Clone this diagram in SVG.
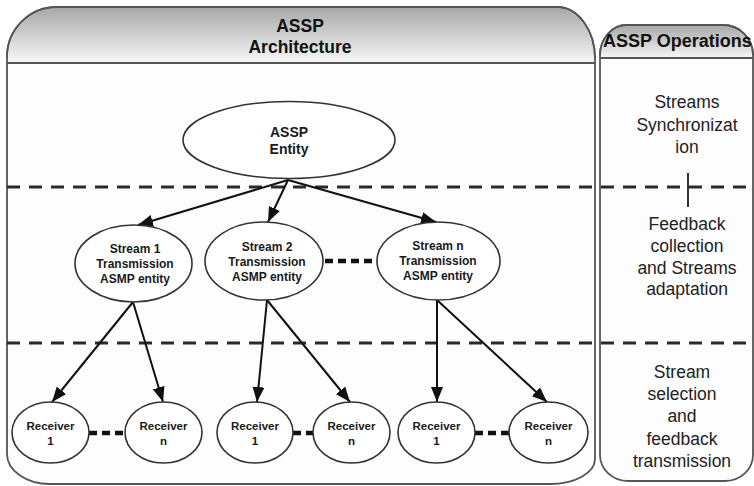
<svg xmlns="http://www.w3.org/2000/svg" width="754" height="486" viewBox="0 0 754 486">
  <defs>
    <linearGradient id="headFill" x1="0" y1="0" x2="0" y2="1">
      <stop offset="0" stop-color="#a9a9a9"/>
      <stop offset="1" stop-color="#f7f7f7"/>
    </linearGradient>
    <marker id="arrow" markerUnits="userSpaceOnUse" markerWidth="16" markerHeight="12" refX="15" refY="6" orient="auto">
      <path d="M0,0 L15,6 L0,12 Z" fill="#111"/>
    </marker>
    <style>
      .panel { fill: #fdfdfd; stroke: #555; stroke-width: 1.8; }
      .head { fill: url(#headFill); stroke: none; }
      .rule { stroke: #555; stroke-width: 1.8; fill: none; }
      .band { stroke: #2a2a2a; stroke-width: 3; stroke-dasharray: 13 9; fill: none; }
      .node ellipse { fill: #ffffff; stroke: #333; stroke-width: 1.6; }
      .node text { font-family: "Liberation Sans", Arial, sans-serif; font-weight: bold; fill: #1a1a1a; text-anchor: middle; }
      .t14 { font-size: 14px; }
      .t12 { font-size: 12px; }
      .t11 { font-size: 11.5px; }
      .title { font-family: "Liberation Sans", Arial, sans-serif; font-weight: bold; font-size: 17.5px; fill: #111; text-anchor: middle; }
      .op { font-family: "Liberation Sans", Arial, sans-serif; font-size: 17.5px; fill: #222; text-anchor: middle; }
      .edge { stroke: #111; stroke-width: 2; fill: none; marker-end: url(#arrow); }
      .dots { stroke: #111; stroke-width: 4.5; stroke-dasharray: 8 5; fill: none; }
    </style>
  </defs>

  <rect width="754" height="486" fill="#ffffff"/>

  <!-- Architecture panel -->
  <g id="architecture-panel">
    <path class="panel" d="M7,57 A50,50 0 0 1 57,7 L557,7 A38,52 0 0 1 595,59 L595,459 A45,25 0 0 1 550,484 L50,484 A43,30 0 0 1 7,454 Z"/>
    <path class="head" d="M8,63 L8,57 A49,49 0 0 1 57,8 L557,8 A37,51 0 0 1 594,59 L594,63 Z"/>
    <path class="panel" style="fill:none" d="M7,57 A50,50 0 0 1 57,7 L557,7 A38,52 0 0 1 595,59"/>
    <line class="rule" x1="7" y1="63" x2="595" y2="63"/>
    <text class="title" x="300" y="32">ASSP</text>
    <text class="title" x="300" y="53">Architecture</text>
  </g>

  <!-- Operations panel -->
  <g id="operations-panel">
    <path class="panel" d="M600,55 A27,30 0 0 1 627,25 L723,25 A30,30 0 0 1 753,55 L753,455 A28,26 0 0 1 725,481 L628,481 A28,26 0 0 1 600,455 Z"/>
    <path class="head" d="M601,58 L601,55 A26,29 0 0 1 627,26 L723,26 A29,29 0 0 1 752,55 L752,58 Z"/>
    <path class="panel" style="fill:none" d="M600,55 A27,30 0 0 1 627,25 L723,25 A30,30 0 0 1 753,55"/>
    <line class="rule" x1="600" y1="58" x2="753" y2="58"/>
    <text class="title" x="603" y="47" style="text-anchor:start;font-size:18px">ASSP Operations</text>
    <text class="op" x="687" y="108">Streams</text>
    <text class="op" x="687" y="131">Synchronizat</text>
    <text class="op" x="687" y="153">ion</text>
    <line x1="688" y1="173" x2="688" y2="207" stroke="#333" stroke-width="2"/>
    <text class="op" x="687" y="230">Feedback</text>
    <text class="op" x="687" y="252">collection</text>
    <text class="op" x="687" y="274">and Streams</text>
    <text class="op" x="687" y="295">adaptation</text>
    <text class="op" x="682" y="378">Stream</text>
    <text class="op" x="682" y="400">selection</text>
    <text class="op" x="682" y="422">and</text>
    <text class="op" x="682" y="445">feedback</text>
    <text class="op" x="682" y="467">transmission</text>
  </g>

  <!-- Layer boundaries -->
  <g id="layer-lines">
    <line class="band" x1="7" y1="187" x2="754" y2="187"/>
    <line class="band" x1="7" y1="343" x2="754" y2="343"/>
  </g>

  <!-- Connectors -->
  <g id="connectors">
    <line class="edge" x1="288" y1="180" x2="138" y2="225"/>
    <line class="edge" x1="288" y1="180" x2="268" y2="222"/>
    <line class="edge" x1="288" y1="180" x2="436" y2="222"/>
    <line class="edge" x1="133" y1="302" x2="52" y2="402"/>
    <line class="edge" x1="133" y1="302" x2="163" y2="402"/>
    <line class="edge" x1="267" y1="300" x2="257" y2="402"/>
    <line class="edge" x1="267" y1="300" x2="350" y2="402"/>
    <line class="edge" x1="437" y1="300" x2="437" y2="402"/>
    <line class="edge" x1="437" y1="300" x2="547" y2="402"/>
    <line class="dots" x1="325" y1="261" x2="377" y2="261"/>
    <line class="dots" x1="89" y1="433" x2="125" y2="433"/>
    <line class="dots" x1="293" y1="433" x2="313" y2="433"/>
    <line class="dots" x1="475" y1="433" x2="509" y2="433"/>
  </g>

  <!-- Nodes -->
  <g id="assp-entity" class="node">
    <ellipse cx="289" cy="140" rx="106" ry="38.5"/>
    <text class="t14" x="289" y="137">ASSP</text>
    <text class="t14" x="289" y="154">Entity</text>
  </g>
  <g id="stream-1" class="node">
    <ellipse cx="133.5" cy="263.5" rx="58.5" ry="38.5"/>
    <text class="t12" x="135" y="253">Stream 1</text>
    <text class="t12" x="135" y="268">Transmission</text>
    <text class="t12" x="135" y="283">ASMP entity</text>
  </g>
  <g id="stream-2" class="node">
    <ellipse cx="264" cy="261" rx="59" ry="39"/>
    <text class="t12" x="267" y="251">Stream 2</text>
    <text class="t12" x="267" y="266">Transmission</text>
    <text class="t12" x="267" y="281">ASMP entity</text>
  </g>
  <g id="stream-n" class="node">
    <ellipse cx="438.5" cy="261" rx="61.5" ry="39"/>
    <text class="t12" x="438" y="250">Stream n</text>
    <text class="t12" x="438" y="265">Transmission</text>
    <text class="t12" x="438" y="280">ASMP entity</text>
  </g>
  <g id="stream-1-receiver-1" class="node">
    <ellipse cx="50.5" cy="432.5" rx="38.5" ry="30.5"/>
    <text class="t11" x="50.5" y="430">Receiver</text>
    <text class="t11" x="50.5" y="445">1</text>
  </g>
  <g id="stream-1-receiver-n" class="node">
    <ellipse cx="163.5" cy="432.5" rx="38.5" ry="30.5"/>
    <text class="t11" x="163.5" y="430">Receiver</text>
    <text class="t11" x="163.5" y="445">n</text>
  </g>
  <g id="stream-2-receiver-1" class="node">
    <ellipse cx="255" cy="432.5" rx="38" ry="30.5"/>
    <text class="t11" x="255" y="430">Receiver</text>
    <text class="t11" x="255" y="445">1</text>
  </g>
  <g id="stream-2-receiver-n" class="node">
    <ellipse cx="351.5" cy="432.5" rx="38.5" ry="30.5"/>
    <text class="t11" x="351.5" y="430">Receiver</text>
    <text class="t11" x="351.5" y="445">n</text>
  </g>
  <g id="stream-n-receiver-1" class="node">
    <ellipse cx="436.5" cy="432.5" rx="38.5" ry="30.5"/>
    <text class="t11" x="436.5" y="430">Receiver</text>
    <text class="t11" x="436.5" y="445">1</text>
  </g>
  <g id="stream-n-receiver-n" class="node">
    <ellipse cx="548.5" cy="432.5" rx="39.5" ry="30.5"/>
    <text class="t11" x="548.5" y="430">Receiver</text>
    <text class="t11" x="548.5" y="445">n</text>
  </g>
</svg>
